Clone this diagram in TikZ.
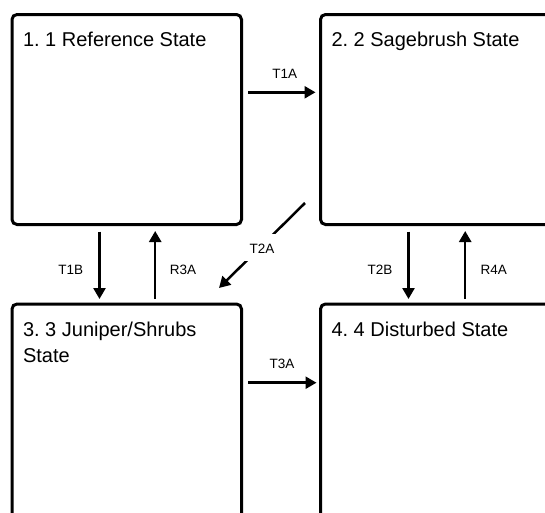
\documentclass[tikz,border=0pt]{standalone}
\usepackage{fontspec}
\setmainfont{Liberation Sans}
\usetikzlibrary{arrows.meta,calc}
\frenchspacing
\begin{document}
\begin{tikzpicture}[x=1pt,y=-1pt,
  box/.style={draw, line width=3pt, rounded corners=5pt, anchor=north west, inner sep=0pt, outer sep=0pt},
  title/.style={anchor=base west, inner sep=0pt, outer sep=0pt, align=left, font=\fontsize{20pt}{25.5pt}\selectfont\frenchspacing},
  lab/.style={inner sep=0pt, outer sep=0pt, font=\fontsize{13.5pt}{16pt}\selectfont},
  arr/.style={line width=2.5pt, -{Triangle[length=11pt,width=12pt]}}
]
\useasboundingbox (0,0) rectangle (545,512);
\fill[white] (0,0) rectangle (545,512);
% state boxes
\node[box, minimum width=229.5pt, minimum height=210pt] (s1) at (12,14.5) {};
\node[box, minimum width=240pt, minimum height=210pt] (s2) at (320.5,14.5) {};
\node[box, minimum width=229.5pt, minimum height=230pt] (s3) at (12,304) {};
\node[box, minimum width=240pt, minimum height=230pt] (s4) at (320.5,304) {};
% titles
\node[title] (t1) at ($(s1.north west)+(11,31.5)$) {1. 1 Reference State};
\node[title] (t2) at ($(s2.north west)+(11,31.5)$) {2. 2 Sagebrush State};
\node[title] (t3) at ($(s3.north west)+(11,58.2)$) {3. 3 Juniper/Shrubs\\State};
\node[title] (t4) at ($(s4.north west)+(11,32.7)$) {4. 4 Disturbed State};
% connectors
\draw[arr] ($(s1.north east)+(6.5,77.8)$) -- ($(s2.north west)+(-5,77.8)$);
\draw[arr] ($(s3.north east)+(6.5,78.7)$) -- ($(s4.north west)+(-4,78.7)$);
\draw[arr] ($(s1.south west)+(87.5,7.2)$) -- ($(s3.north west)+(87.5,-5)$);
\draw[arr] ($(s3.north west)+(143.2,-5)$) -- ($(s1.south west)+(143.2,6.5)$);
\draw[arr] ($(s2.south west)+(88,7.2)$) -- ($(s4.north west)+(88,-5)$);
\draw[arr] ($(s4.north west)+(144.7,-5)$) -- ($(s2.south west)+(144.7,6.5)$);
\draw[arr] ($(s2.south west)+(-15.5,-21.5)$) -- ($(s3.north east)+(-22.5,-16)$);
\fill[white] (244,234) rectangle (278,261);
% labels
\node[lab] (l1) at (284.7,73.8) {T1A};
\node[lab] (l2) at (70.8,270) {T1B};
\node[lab] (l3) at (183,270) {R3A};
\node[lab] (l4) at (262,249) {T2A};
\node[lab] (l5) at (380,270) {T2B};
\node[lab] (l6) at (493.7,270) {R4A};
\node[lab] (l7) at (282,364) {T3A};
\end{tikzpicture}
\end{document}
